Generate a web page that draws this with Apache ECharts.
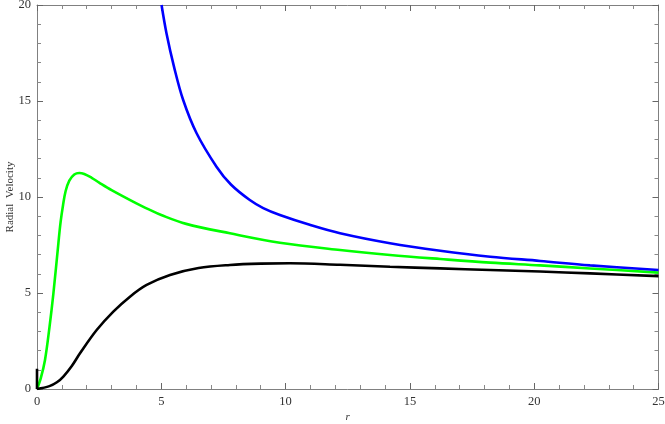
<!DOCTYPE html>
<html>
<head>
<meta charset="utf-8">
<script src="https://cdn.jsdelivr.net/npm/echarts@6/dist/echarts.min.js"></script>
<style>
  html, body {margin: 0; padding: 0; background: #fff;}
  #chart {width: 665px; height: 424px;}
</style>
</head>
<body>
<div id="chart"></div>
<script>
// values
const blackR = [0, 0.5, 0.8, 1.06, 1.4, 1.73, 2.4, 3.07, 3.74, 4.41, 5.35, 6.5, 7.76, 9, 10.18, 12.19, 14.2, 16.22, 18.23, 20.24, 22.25, 25]
const blackV = [0, 0.15, 0.35, 0.65, 1.2, 1.86, 3.07, 4.03, 4.81, 5.42, 5.94, 6.3, 6.46, 6.53, 6.55, 6.47, 6.37, 6.28, 6.2, 6.12, 6.02, 5.88]
const blackSpikeR = [0, 0]
const blackSpikeV = [1.05, 0]

const greenR = [0, 0.15, 0.32, 0.5, 0.66, 0.86, 0.95, 1.05, 1.15, 1.3, 1.5, 1.7, 1.9, 2.2, 2.5, 3, 4, 4.54, 5, 6, 7.76, 9.77, 12.19, 14.2, 16.22, 18.23, 20.24, 22.25, 25]
const greenV = [0, 0.55, 1.5, 3.2, 4.98, 7.59, 8.7, 9.6, 10.3, 10.85, 11.17, 11.25, 11.2, 11.0, 10.75, 10.36, 9.67, 9.33, 9.06, 8.6, 8.11, 7.62, 7.24, 6.98, 6.77, 6.58, 6.44, 6.28, 6.06]

const blueR = [5.01, 5.21, 5.51, 5.88, 6.42, 7.22, 7.8, 8.56, 9.1, 9.77, 10.97, 12.19, 14.2, 16.22, 18.23, 20.24, 22.25, 25]
const blueV = [20, 18.52, 16.79, 15.05, 13.32, 11.58, 10.65, 9.84, 9.42, 9.06, 8.55, 8.11, 7.59, 7.2, 6.89, 6.67, 6.44, 6.2]

const xTicks = [0, 5, 10, 15, 20, 25]
const yTicks = [0, 5, 10, 15, 20]

const zip = (a, b) => a.map((x, i) => [x, b[i]])

const frameColor = "#808080"
const font = "Liberation Serif"

function axis(pos, ticks, show, extra) {
    return Object.assign({
        type: "value",
        position: pos,
        min: ticks[0],
        max: ticks[ticks.length - 1],
        interval: ticks[1] - ticks[0],
        axisLine: {show: true, onZero: false, lineStyle: {color: frameColor, width: 1}},
        axisTick: {show: true, inside: true, length: 6, lineStyle: {color: "#666", width: 1}},
        minorTick: {show: true, splitNumber: 5, length: 4, lineStyle: {color: "#888", width: 1}},
        splitLine: {show: false},
        minorSplitLine: {show: false},
        axisLabel: {show: show, color: "#333", fontFamily: font, fontSize: 12.5, margin: 6},
    }, extra || {})
}

const line = (data, color, idx) => ({
    type: "line",
    data: data,
    smooth: 0.35,
    showSymbol: false,
    clip: true,
    lineStyle: {color: color, width: 2.6},
    z: idx,
})

const option = {
    animation: false,
    grid: {left: 37, right: 6.5, top: 5, bottom: 35, containLabel: false, outerBoundsMode: "none"},
    xAxis: [
        axis("bottom", xTicks, true, {
            name: "r", nameLocation: "middle", nameGap: 23, nameMoveOverlap: false,
            nameTextStyle: {fontFamily: font, fontStyle: "italic", fontSize: 11, color: "#333"},
        }),
        axis("top", xTicks, false),
    ],
    yAxis: [
        axis("left", yTicks, true, {
            name: "Radial  Velocity", nameLocation: "middle", nameGap: 21, nameRotate: 90, nameMoveOverlap: false,
            nameTextStyle: {fontFamily: font, fontSize: 11, color: "#333"},
        }),
        axis("right", yTicks, false),
    ],
    series: [
        line(zip(blueR, blueV), "#0000ff", 3),
        line(zip(greenR, greenV), "#00ff00", 2),
        line(zip(blackR, blackV), "#000000", 4),
        line(zip(blackSpikeR, blackSpikeV), "#000000", 4),
    ],
}

const chart = echarts.init(document.getElementById("chart"))
chart.setOption(option)
</script>
</body>
</html>
